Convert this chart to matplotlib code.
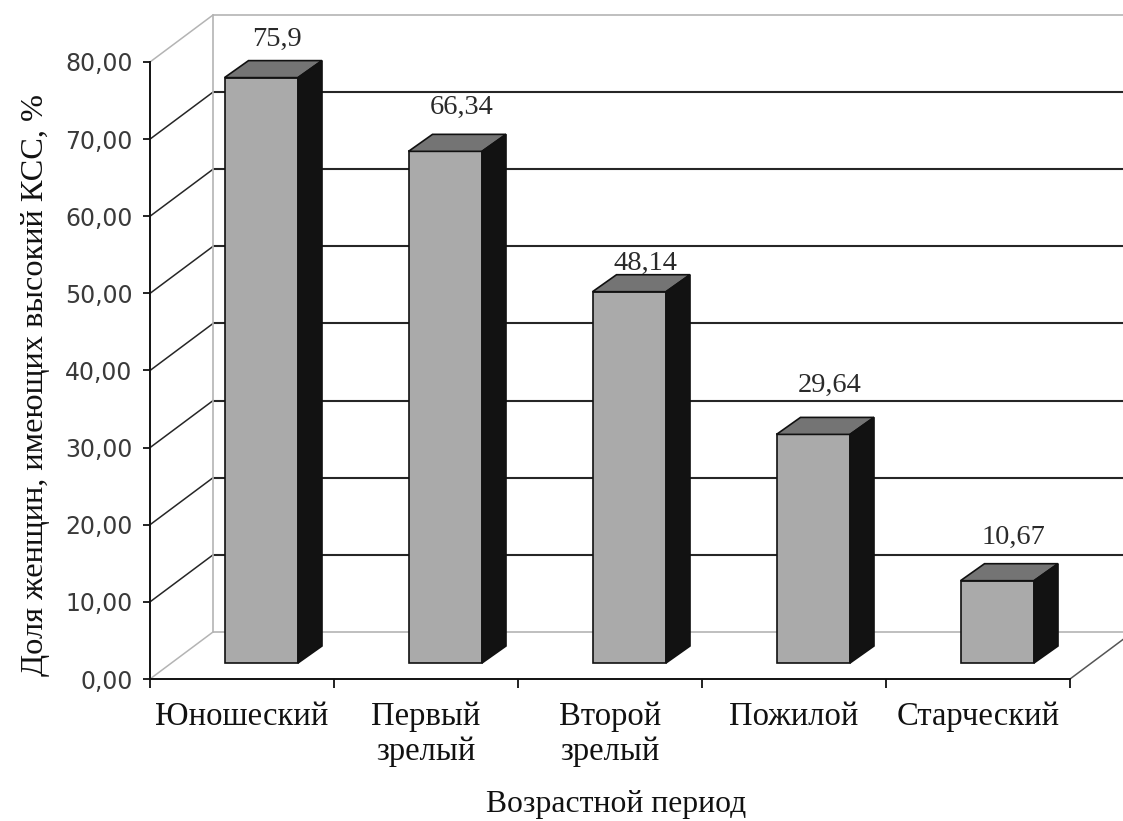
import matplotlib
matplotlib.use("Agg")
import matplotlib.pyplot as plt
from matplotlib.patches import Polygon

# Data
categories = ["Юношеский", "Первый\nзрелый", "Второй\nзрелый", "Пожилой", "Старческий"]
values = [75.9, 66.34, 48.14, 29.64, 10.67]
value_labels = ["75,9", "66,34", "48,14", "29,64", "10,67"]
y_ticks = [0, 10, 20, 30, 40, 50, 60, 70, 80]
x_title = "Возрастной период"
y_title = "Доля женщин, имеющих высокий КСС, %"

# Per-label vertical offsets (points) above the bar tops
label_lift_pt = [15, 19.5, 8, 23, 19]

W_PX, H_PX, DPI = 1123, 821, 100
fig = plt.figure(figsize=(W_PX / DPI, H_PX / DPI), dpi=DPI)
fig.patch.set_facecolor("white")

# Plot area (front plane) in pixels
left_px, right_px = 150, 1070
zero_px, top_px = 679, 62
ax = fig.add_axes([left_px / W_PX, (H_PX - zero_px) / H_PX,
                   (right_px - left_px) / W_PX, (zero_px - top_px) / H_PX])
ax.set_xlim(-0.5, 4.5)
ax.set_ylim(0, 80)
ax.set_facecolor("none")

px_per_cat = (right_px - left_px) / 5.0
px_per_unit = (zero_px - top_px) / 80.0

def cx(px):
    return px / px_per_cat

def cy(px):
    return px / px_per_unit

# Depth of the chart box (walls)
DX, DY = cx(63), cy(47)
# Bar geometry
bar_off = cx(-17.5)
bar_w = cx(73.5)
bar_lift = cy(16)
bdx, bdy = cx(24), cy(17)

light = "#b4b4b4"
dark = "#262626"

# Back wall grid lines and side wall diagonals
x_back = -0.5 + DX
for v in y_ticks:
    col = light if v in (0, 80) else dark
    lw = 1.2 if v in (0, 80) else 1.5
    ax.plot([x_back, 4.5 + DX], [v + DY, v + DY], color=col, lw=lw,
            clip_on=False, zorder=1, solid_capstyle="butt")
    ax.plot([-0.5, x_back], [v, v + DY], color=col, lw=1.1,
            clip_on=False, zorder=1)
ax.plot([x_back, x_back], [DY, 80 + DY], color=light, lw=1.2,
        clip_on=False, zorder=1)
ax.plot([4.5, 4.5 + DX], [0, DY], color="#555555", lw=1.1,
        clip_on=False, zorder=1)

# Bars: front face through ax.bar, then top and side faces
xs = [i + bar_off for i in range(len(values))]
ax.bar(xs, values, width=bar_w, bottom=bar_lift, align="edge",
       color="#aaaaaa", edgecolor="#111111", linewidth=1.2, zorder=3,
       clip_on=False)
for x0, v in zip(xs, values):
    top = bar_lift + v
    top_face = Polygon([(x0, top), (x0 + bar_w, top),
                        (x0 + bar_w + bdx, top + bdy), (x0 + bdx, top + bdy)],
                       closed=True, facecolor="#747474", edgecolor="#111111",
                       linewidth=1.2, zorder=3, clip_on=False)
    side_face = Polygon([(x0 + bar_w, bar_lift), (x0 + bar_w + bdx, bar_lift + bdy),
                         (x0 + bar_w + bdx, top + bdy), (x0 + bar_w, top)],
                        closed=True, facecolor="#121212", edgecolor="#111111",
                        linewidth=1.2, zorder=3, clip_on=False)
    ax.add_patch(top_face)
    ax.add_patch(side_face)

# Value labels
for i, (x0, v, lab) in enumerate(zip(xs, values, value_labels)):
    ax.annotate(lab, xy=(x0 + bar_w / 2 + cx(16), bar_lift + v + bdy),
                xytext=(0, label_lift_pt[i]), textcoords="offset points",
                ha="center", va="center", fontsize=20.5,
                family="Liberation Serif", color="#2a2a2a",
                annotation_clip=False, zorder=5)

# Axes styling
for s in ("top", "right"):
    ax.spines[s].set_visible(False)
ax.spines["left"].set_color("#111111")
ax.spines["bottom"].set_color("#111111")
ax.spines["left"].set_linewidth(1.4)
ax.spines["bottom"].set_linewidth(1.4)
ax.spines["left"].set_zorder(2)
ax.spines["bottom"].set_zorder(2)

ax.set_yticks(y_ticks)
ax.set_yticklabels([f"{t:.2f}".replace(".", ",") for t in y_ticks],
                   family="DejaVu Sans", fontsize=17, color="#3a3a3a")
ax.tick_params(axis="y", length=5, width=1.3, color="#111111", pad=7.5)

ax.set_xticks([-0.5 + k for k in range(6)])
ax.set_xticklabels([])
ax.tick_params(axis="x", which="major", length=6.5, width=1.3, color="#111111")
ax.set_xticks(range(len(categories)), minor=True)
ax.set_xticklabels(categories, minor=True, family="Liberation Serif",
                   fontsize=23.5, color="#111111", linespacing=1.2)
ax.tick_params(axis="x", which="minor", length=0, pad=16)

fig.text(616 / W_PX, 1 - 804 / H_PX, x_title, ha="center", va="center",
         family="Liberation Serif", fontsize=22.8, color="#111111")
fig.text(36 / W_PX, 1 - 385 / H_PX, y_title, ha="center", va="center",
         rotation=90, family="Liberation Serif", fontsize=23.3, color="#111111")

fig.savefig("out.png", dpi=DPI, facecolor="white")
